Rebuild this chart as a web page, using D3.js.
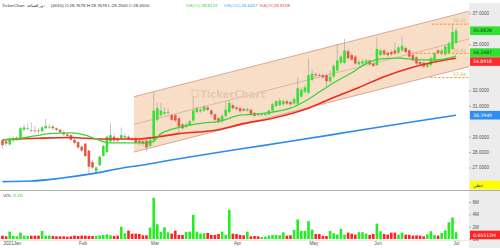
<!DOCTYPE html>
<html>
<head>
<meta charset="utf-8">
<script src="https://cdn.jsdelivr.net/npm/d3@7"></script>
<style>
  html, body { margin: 0; padding: 0; background: #fff; }
  svg { display: block; font-family: "DejaVu Sans", sans-serif; }
</style>
</head>
<body>
<div id="chart"></div>
<script>
// Daily candles, first trading day of Jan 2021 to early Jul 2021
const open = [28.7678,28.7,28.5,28.75,28.8,28.85,29.45,29.5,29.42,29.4,29.4,29.35,29.55,29.6,29.65,29.55,29.45,29.3,29.15,29.1,
  28.8,28.65,28.35,28.55,28.1,27.35,26.75,27.15,27.75,28.0,28.7,29.0,28.85,28.9,28.95,29.0,28.9,28.9,28.75,28.7,
  28.75,28.4,28.8,30.1,30.4,30.5,30.55,30.4,30.4,30.2,29.8,29.65,29.75,30.05,30.6,30.65,30.7,30.9,30.7,30.45,
  30.2,30.0,30.35,30.6,31.05,30.9,30.85,30.8,30.7,30.75,30.55,30.45,30.4,30.42,30.45,30.7,31.0,31.05,31.1,31.3,
  31.25,31.15,31.15,31.6,31.9,31.85,32.7,33.05,33.02,33.0,33.0,32.6,32.9,33.3,33.8,33.8,34.55,34.3,34.2,33.7,
  33.75,33.8,33.95,33.75,33.65,34.3,34.6,34.45,34.5,34.6,34.45,34.6,34.75,34.6,34.3,34.15,33.85,33.8,33.55,33.65,
  34.0,34.6,34.4,34.35,34.45,34.7,35.1];
const high = [28.7678,28.8,28.95,29.0,29.05,29.65,29.8,29.85,29.9,29.7,29.55,29.7,30.15,29.8,29.75,29.6,29.5,29.4,29.25,29.15,
  28.9,28.7,28.45,28.6,28.15,27.5,27.1,27.8,28.5,29.1,29.9,29.2,29.0,29.6,29.2,29.1,29.0,29.0,28.85,28.8,
  28.8,28.9,31.9,31.2,31.2,30.9,30.8,30.5,30.5,30.3,29.9,29.9,30.1,31.6,31.0,30.9,31.05,31.0,30.8,30.55,
  30.3,30.45,31.3,31.35,31.15,31.0,30.95,30.9,30.9,30.8,30.6,30.55,30.55,30.6,30.75,31.2,31.4,31.5,31.45,31.4,
  31.35,31.55,32.85,32.2,32.35,34.1,33.35,33.2,33.15,33.1,33.1,33.3,33.7,35.0,34.3,35.35,34.7,34.45,34.3,34.0,
  34.05,34.05,34.0,33.85,35.45,34.7,34.7,34.55,34.65,35.1,34.9,35.5,34.85,34.7,34.4,34.25,33.95,33.9,33.8,34.2,
  34.5,34.7,34.7,34.95,35.2,36.31,36.05];
const low = [28.25,28.4,28.4,28.65,28.7,28.8,29.35,29.4,29.3,29.25,29.2,29.3,29.5,29.5,29.45,29.35,29.2,29.05,28.9,28.7,
  28.5,28.2,28.0,27.65,26.6,26.9,26.65,27.05,27.7,27.95,28.6,28.65,28.6,28.8,28.85,28.75,28.7,28.5,28.45,28.4,
  28.05,28.3,28.7,30.0,30.3,30.4,30.45,30.0,29.95,29.2,29.45,29.55,29.7,29.95,30.5,30.55,30.6,30.65,30.35,30.0,
  29.85,29.9,30.25,30.5,30.75,30.7,30.55,30.6,30.6,30.35,30.25,30.3,30.3,30.35,30.4,30.6,30.9,30.95,31.0,31.05,
  31.0,31.05,31.1,31.5,31.8,31.75,32.6,32.85,32.85,32.75,32.25,32.5,32.8,33.2,33.7,33.7,33.95,33.9,33.65,33.6,
  33.65,33.7,33.6,33.5,33.55,34.2,34.25,34.2,34.25,34.3,34.35,34.5,34.4,34.1,33.9,33.65,33.6,33.45,33.45,33.55,
  33.9,34.35,34.3,34.25,34.35,34.6,35.0];
const close = [28.45,28.55,28.85,28.9,28.95,29.55,29.6,29.55,29.38,29.36,29.35,29.6,29.7,29.65,29.55,29.45,29.3,29.15,29.05,28.8,
  28.6,28.3,28.1,27.75,27.05,27.0,27.0,27.7,28.4,29.0,29.1,28.75,28.75,29.1,29.05,28.85,28.8,28.6,28.6,28.55,
  28.3,28.8,30.7,30.85,30.7,30.6,30.6,30.1,30.05,29.65,29.55,29.8,30.0,30.7,30.85,30.75,30.95,30.75,30.45,30.1,
  29.95,30.35,30.75,31.2,30.85,30.8,30.65,30.7,30.8,30.45,30.35,30.4,30.45,30.48,30.7,31.1,31.3,31.35,31.3,31.15,
  31.1,31.45,32.15,32.05,32.2,33.0,33.1,32.98,32.96,32.85,32.6,32.9,33.6,33.95,34.2,34.6,34.1,34.0,33.75,33.85,
  33.9,33.95,33.7,33.6,34.7,34.6,34.35,34.3,34.35,34.4,34.8,34.9,34.5,34.2,33.95,33.75,33.7,33.55,33.7,34.1,
  34.4,34.45,34.6,34.85,35.05,35.8,35.8828];
// Volume in millions
const volume = [0.55,0.44,1.2,0.49,0.44,1.04,0.55,0.49,0.55,0.55,0.55,1.31,0.55,0.55,0.49,0.44,0.44,0.44,0.38,0.44,
  0.55,0.49,0.55,0.55,0.49,0.49,0.49,0.55,0.66,0.77,0.6,0.49,0.55,1.97,0.93,1.37,0.87,0.87,0.82,0.6,
  0.6,1.86,6.7,2.4,1.15,1.91,1.09,0.87,1.37,0.66,0.66,1.15,1.2,3.93,1.2,0.87,0.93,0.98,0.66,0.66,
  0.82,1.2,0.66,4.75,0.87,0.82,0.66,0.6,1.2,0.44,0.49,0.44,0.33,0.38,0.55,0.66,0.66,0.6,1.1,0.55,
  0.6,1.48,3.17,1.31,1.31,2.9,1.53,0.82,0.82,0.49,0.49,1.31,0.93,0.71,1.64,0.71,1.04,0.87,0.71,1.1,
  1.1,0.87,0.66,0.82,2.5,1.26,0.82,0.71,1.04,1.04,0.71,1.04,0.71,0.66,0.55,0.6,0.55,0.44,0.77,1.26,
  0.66,0.55,0.98,1.42,2.73,3.5,1.1];

const monthLabels = ["2021Jan", "Feb", "Mar", "Apr", "May", "Jun", "Jul"];
const monthStart = [0, 21, 41, 64, 85, 103, 125];

const priceTicks = [37, 35, 32, 31, 29, 28, 27];
const volumeTicks = [0, 2, 4, 6];

// Moving averages at these candles
const ma15Index = [0,5,9,13,19,23,26,30,36,40,42,44,46,50,56,60,66,72,75,80,84,88,92,97,101,105,110,115,120,124,126];
const ma15 = [28.8,28.9,29.05,29.2,29.25,29.1,28.85,28.6,28.6,28.6,28.7,29.2,29.4,29.65,29.9,29.98,30.4,30.5,30.6,30.85,31.3,31.9,32.5,33.15,33.75,34.05,34.1,34.0,33.98,34.1,34.2487];
const ma35Index = [0,10,19,27,37,42,49,60,66,75,85,92,99,106,113,120,126];
const ma35 = [28.8,28.9,28.95,28.85,28.85,28.95,29.2,29.45,29.8,30.2,30.85,31.55,32.2,32.9,33.45,33.85,34.0918];
const ma200Index = [0,8,16,25,33,40,46,55,66,80,100,115,126];
const ma200 = [26.08,26.12,26.3,26.6,26.95,27.2,27.45,27.8,28.2,28.7,29.45,30.0,30.3949];

// Trend channel (two anchor candles) and horizontal levels
const channelIndex = [36.5, 129.6];
const channelUpper = [31.6, 37.15];
const channelLower = [28.0, 33.55];
const levelValues = [36.31, 34.41, 32.84];
const levelStart = [119.3, 112.6, 118.8];

const volumeTag = 0.65512;

class TickerChartView {
    constructor(section) {
        this.width = 500;
        this.height = 248;
        this.plotRight = 469;
        this.upColor = "#38e038";
        this.downColor = "#e45a44";

        this.x = d3.scaleLinear().domain([0, 126]).range([2.5, 456.1]);
        this.y = d3.scaleLinear().domain([27, 37]).range([167.5, 13.5]);
        this.yVol = d3.scaleLinear().domain([0, 6]).range([239, 202.1]);

        this.svg = d3.select(section).append("svg")
            .attr("width", this.width)
            .attr("height", this.height);

        this.drawFrame();
        this.drawPricePanel();
        this.drawVolumePanel();
        this.drawAxes();
        this.drawHeader();
    }

    drawFrame() {
        const svg = this.svg;
        const defs = svg.append("defs");
        defs.append("clipPath").attr("id", "priceClip")
            .append("rect").attr("x", 0).attr("y", 9).attr("width", this.plotRight).attr("height", 181);
        defs.append("clipPath").attr("id", "volClip")
            .append("rect").attr("x", 0).attr("y", 191).attr("width", this.plotRight).attr("height", 49);

        // right axis column
        svg.append("rect").attr("x", this.plotRight).attr("y", 3)
            .attr("width", this.width - this.plotRight).attr("height", this.height - 3)
            .attr("fill", "#ececec");

        svg.append("line").attr("x1", 0).attr("x2", this.width).attr("y1", 190.5).attr("y2", 190.5)
            .attr("stroke", "#9a9a9a").attr("stroke-width", 0.8);
        svg.append("line").attr("x1", 0).attr("x2", this.plotRight).attr("y1", 240.5).attr("y2", 240.5)
            .attr("stroke", "#d8d8d8").attr("stroke-width", 0.6);
    }

    drawPricePanel() {
        const x = this.x, y = this.y;
        const g = this.svg.append("g").attr("clip-path", "url(#priceClip)");

        // channel
        const pts = [
            [x(channelIndex[0]), y(channelUpper[0])],
            [x(channelIndex[1]), y(channelUpper[1])],
            [x(channelIndex[1]), y(channelLower[1])],
            [x(channelIndex[0]), y(channelLower[0])]
        ];
        g.append("path").attr("d", "M" + pts.join("L") + "Z").attr("fill", "#f8dec6");
        const mid = channelUpper.map((u, i) => (u + channelLower[i]) / 2);
        [channelUpper, mid, channelLower].forEach((arr, k) => {
            g.append("line")
                .attr("x1", x(channelIndex[0])).attr("y1", y(arr[0]))
                .attr("x2", x(channelIndex[1])).attr("y2", y(arr[1]))
                .attr("stroke", "#c88a78").attr("stroke-width", k === 1 ? 0.5 : 0.7);
        });

        // watermark
        g.append("rect").attr("x", 192).attr("y", 90).attr("width", 6).attr("height", 7)
            .attr("fill", "none").attr("stroke", "#e2c2a6").attr("stroke-width", 0.8);
        g.append("text").attr("x", 200).attr("y", 97.5)
            .attr("font-size", 10).attr("font-weight", "bold")
            .attr("fill", "#e6c9b0").text("TickerChart");

        // candles
        const idx = d3.range(close.length);
        const bw = 2.6;
        const candle = g.append("g").selectAll("g").data(idx).join("g");
        candle.append("line")
            .attr("x1", i => x(i)).attr("x2", i => x(i))
            .attr("y1", i => y(high[i])).attr("y2", i => y(low[i]))
            .attr("stroke", "#a0a0a0").attr("stroke-width", 0.6);
        candle.append("rect")
            .attr("x", i => x(i) - bw / 2)
            .attr("width", bw)
            .attr("y", i => y(Math.max(open[i], close[i])))
            .attr("height", i => Math.max(0.7, Math.abs(y(open[i]) - y(close[i]))))
            .attr("fill", i => close[i] >= open[i] ? this.upColor : this.downColor);

        // moving averages
        const line = (index, vals) => d3.line()
            .x((d, i) => x(index[i])).y(d => y(d))
            .curve(d3.curveMonotoneX)(vals);
        g.append("path").attr("d", line(ma200Index, ma200)).attr("fill", "none")
            .attr("stroke", "#2b8be8").attr("stroke-width", 1.6);
        g.append("path").attr("d", line(ma35Index, ma35)).attr("fill", "none")
            .attr("stroke", "#ec2c1c").attr("stroke-width", 1.6);
        g.append("path").attr("d", line(ma15Index, ma15)).attr("fill", "none")
            .attr("stroke", "#3ad43a").attr("stroke-width", 1.3);

        // horizontal levels
        levelValues.forEach((v, i) => {
            g.append("line")
                .attr("x1", x(levelStart[i])).attr("x2", this.plotRight)
                .attr("y1", y(v)).attr("y2", y(v))
                .attr("stroke", "#ff8a1e").attr("stroke-width", 0.9)
                .attr("stroke-dasharray", "2.5,1.5");
            g.append("text")
                .attr("x", 466).attr("y", y(v) - 1.8)
                .attr("text-anchor", "end")
                .attr("font-size", 4.6).attr("fill", "#bcc06c")
                .text(v.toFixed(2));
        });
    }

    drawVolumePanel() {
        const x = this.x, yVol = this.yVol;
        const g = this.svg.append("g").attr("clip-path", "url(#volClip)");
        const bw = 2.6;
        g.selectAll("rect").data(volume).join("rect")
            .attr("x", (d, i) => x(i) - bw / 2)
            .attr("width", bw)
            .attr("y", d => yVol(d))
            .attr("height", d => yVol(0) - yVol(d))
            .attr("fill", (d, i) => close[i] >= open[i] ? "#22ee22" : "#ff2424");

        this.svg.append("text").attr("x", 3).attr("y", 196.5)
            .attr("font-size", 4.3).attr("fill", "#555").text("VOL");
        this.svg.append("text").attr("x", 13).attr("y", 196.5)
            .attr("font-size", 4.3).attr("fill", "#33cc33").text("0.10");
    }

    drawTag(yPos, text, fill, color) {
        this.svg.append("rect")
            .attr("x", this.plotRight + 1).attr("y", yPos - 4.3)
            .attr("width", this.width - this.plotRight - 1).attr("height", 8.6)
            .attr("fill", fill);
        this.svg.append("text")
            .attr("x", this.plotRight + 4).attr("y", yPos + 1.6)
            .attr("font-size", 4.6).attr("fill", color).text(text);
    }

    drawAxes() {
        const fmt = d3.format(".4f");
        const priceAxis = d3.axisRight(this.y).tickValues(priceTicks).tickFormat(fmt).tickSize(2).tickPadding(1.5);
        const volAxis = d3.axisRight(this.yVol).tickValues(volumeTicks).tickFormat(d => d + "M").tickSize(2).tickPadding(1.5);

        [priceAxis, volAxis].forEach(axis => {
            const a = this.svg.append("g").attr("transform", `translate(${this.plotRight},0)`).call(axis);
            a.select(".domain").remove();
            a.selectAll("line").attr("stroke", "#888").attr("stroke-width", 0.6);
            a.selectAll("text").attr("font-size", 4.6).attr("fill", "#555");
        });

        // month labels
        const xAxis = d3.axisBottom(this.x).tickValues(monthStart)
            .tickFormat((d, i) => monthLabels[i]).tickSize(0).tickPadding(0);
        const xa = this.svg.append("g").attr("transform", "translate(0,242)").call(xAxis);
        xa.select(".domain").remove();
        xa.selectAll("text").attr("font-size", 4.6).attr("fill", "#555")
            .attr("text-anchor", "start").attr("dx", 0.5).attr("dy", 3);

        // value tags, pushed apart when they overlap
        const tags = [
            { v: close[close.length - 1], fill: "#2fe32f", color: "#1a3a1a" },
            { v: ma15[ma15.length - 1], fill: "#2fe32f", color: "#1a3a1a" },
            { v: ma35[ma35.length - 1], fill: "#ff2a2a", color: "#ffffff" },
            { v: ma200[ma200.length - 1], fill: "#2b8ef0", color: "#ffffff" }
        ].map(t => ({ ...t, pos: this.y(t.v) })).sort((a, b) => a.pos - b.pos);
        for (let i = 1; i < tags.length; i++) {
            const gap = tags[i].pos - tags[i - 1].pos;
            if (gap < 9) {
                const m = (tags[i].pos + tags[i - 1].pos) / 2;
                tags[i - 1].pos = m - 4.5;
                tags[i].pos = m + 4.5;
            }
        }
        tags.forEach(t => this.drawTag(t.pos, fmt(t.v), t.fill, t.color));
        this.drawTag(185, "خطي", "#ffff00", "#333");
        this.drawTag(this.yVol(volumeTag), volumeTag + "M", "#ff2424", "#ffffff");
    }

    drawHeader() {
        const svg = this.svg;
        const t = (x, txt, fill) => svg.append("text").attr("x", x).attr("y", 6.5)
            .attr("font-family", "'Liberation Sans', Arial, sans-serif")
            .attr("font-size", 4.4).attr("fill", fill).text(txt);
        t(2, "TickerChart", "#333");
        t(27, "دور للضيافة", "#333");
        t(51, "(4010) O:28.7678 H:28.7678 L:28.2500 C:28.4500", "#333");
        t(186, "MA(15)", "#77dd77");
        t(201.5, "28.8122", "#2ec82e");
        t(224, "MA(200)", "#7fbcff");
        t(241.5, "26.6457", "#3a98f0");
        t(259.5, "MA(35)", "#f07474");
        t(274, "28.9158", "#e83232");
    }
}

new TickerChartView("#chart");
</script>
</body>
</html>
